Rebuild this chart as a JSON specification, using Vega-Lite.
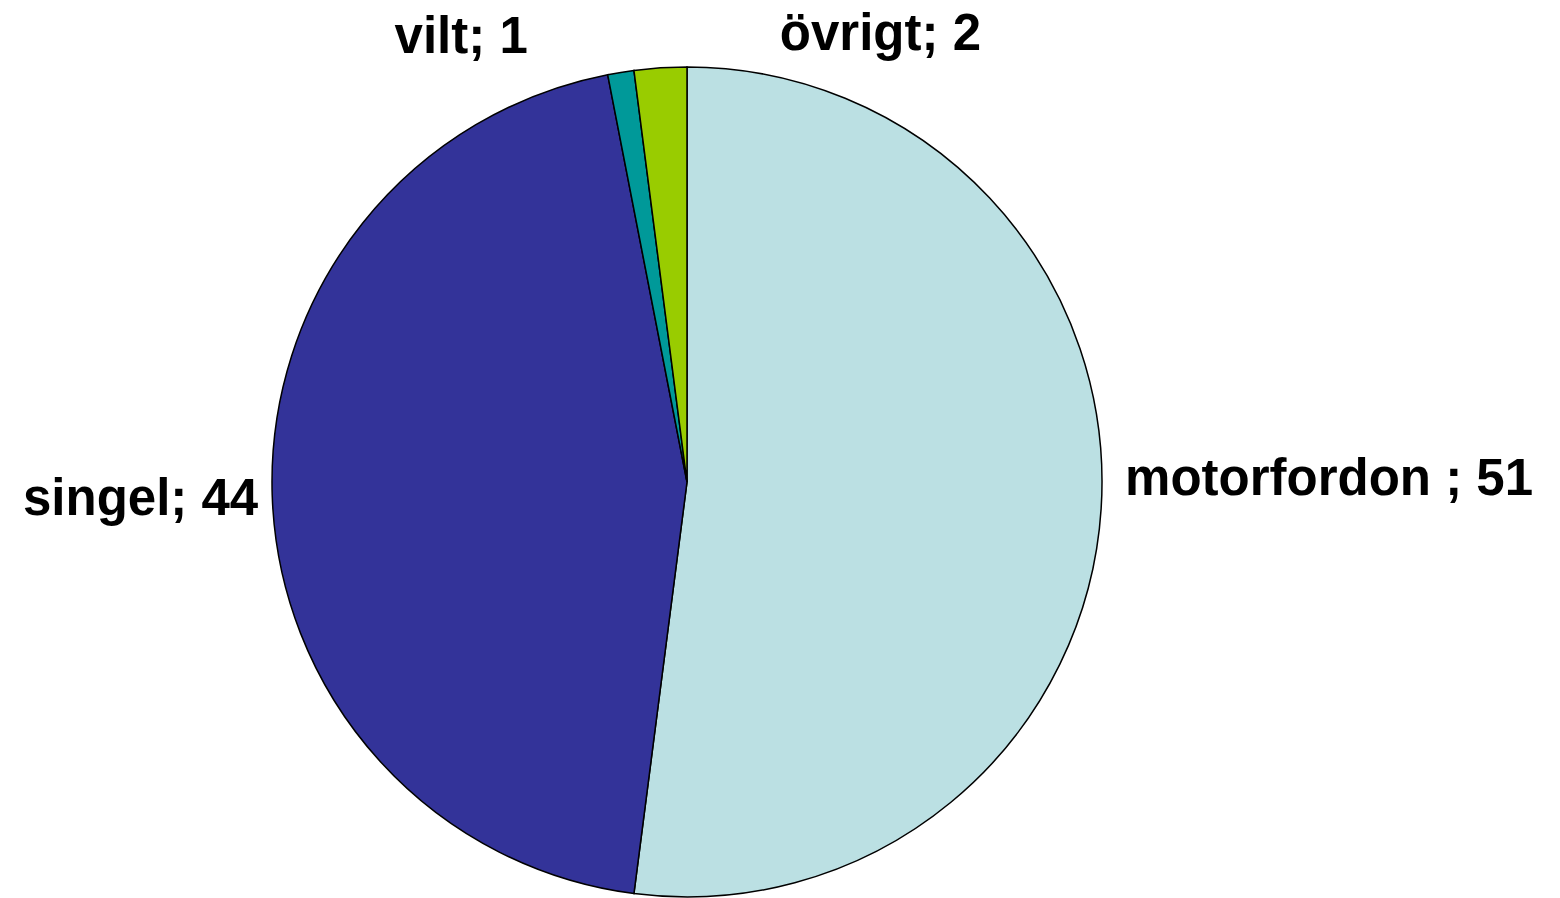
{
  "$schema": "https://vega.github.io/schema/vega-lite/v6.json",
  "width": 1374,
  "height": 832,
  "autosize": {"type": "none"},
  "padding": {"left": 0, "top": 66, "right": 186, "bottom": 0},
  "background": "white",
  "view": {"stroke": null},
  "data": {
    "values": [
      {"cat": "motorfordon", "label": "motorfordon ; 51", "value": 51, "order": 1},
      {"cat": "singel", "label": "singel; 44", "value": 44, "order": 2},
      {"cat": "vilt", "label": "vilt; 1", "value": 1, "order": 3},
      {"cat": "övrigt", "label": "övrigt; 2", "value": 2, "order": 4}
    ]
  },
  "encoding": {
    "theta": {"field": "value", "type": "quantitative", "stack": true},
    "order": {"field": "order", "type": "quantitative"}
  },
  "layer": [
    {
      "mark": {"type": "arc", "outerRadius": 415, "stroke": "black", "strokeWidth": 1.5},
      "encoding": {
        "color": {
          "field": "cat", "type": "nominal",
          "scale": {"domain": ["motorfordon", "singel", "vilt", "övrigt"], "range": ["#BBE0E3", "#333399", "#009999", "#99CC00"]},
          "legend": null
        }
      }
    },
    {
      "mark": {"type": "text", "radius": 440, "align": "left", "baseline": "alphabetic", "dx": -1, "dy": -15, "font": "Liberation Sans", "fontWeight": "bold", "fontSize": 51, "fill": "black"},
      "encoding": {"text": {"condition": {"test": "datum.cat === 'motorfordon'", "field": "label"}, "value": ""}}
    },
    {
      "mark": {"type": "text", "radius": 430, "align": "right", "baseline": "alphabetic", "dx": 1, "dy": 19, "font": "Liberation Sans", "fontWeight": "bold", "fontSize": 51, "fill": "black"},
      "encoding": {"text": {"condition": {"test": "datum.cat === 'singel'", "field": "label"}, "value": ""}}
    },
    {
      "mark": {"type": "text", "radius": 440, "align": "right", "baseline": "alphabetic", "dx": -89, "dy": 5, "font": "Liberation Sans", "fontWeight": "bold", "fontSize": 51, "fill": "black"},
      "encoding": {"text": {"condition": {"test": "datum.cat === 'vilt'", "field": "label"}, "value": ""}}
    },
    {
      "mark": {"type": "text", "radius": 440, "align": "left", "baseline": "alphabetic", "dx": 121, "dy": 7, "font": "Liberation Sans", "fontWeight": "bold", "fontSize": 51, "fill": "black"},
      "encoding": {"text": {"condition": {"test": "datum.cat === 'övrigt'", "field": "label"}, "value": ""}}
    }
  ]
}
